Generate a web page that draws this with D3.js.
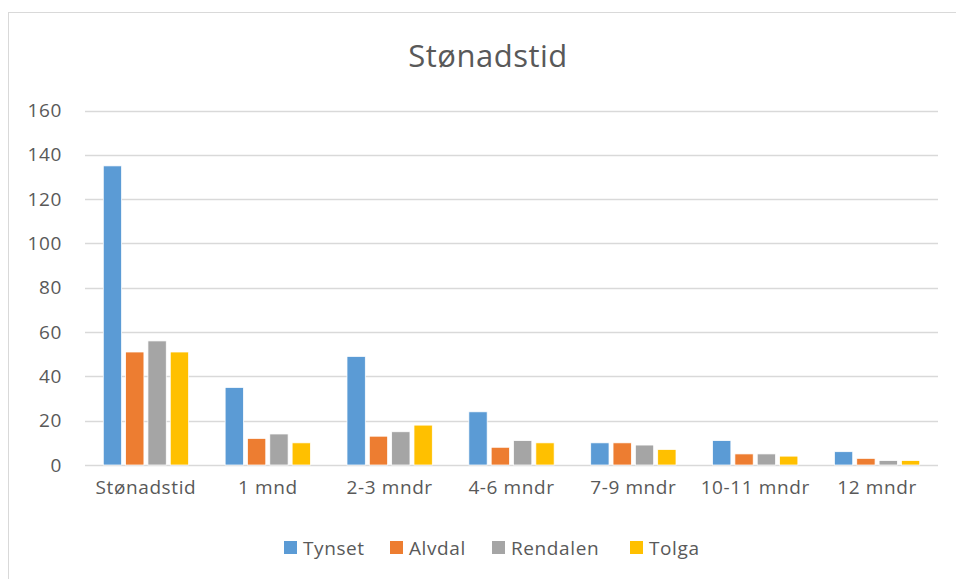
<!DOCTYPE html>
<html>
<head>
<meta charset="utf-8">
<script src="https://cdn.jsdelivr.net/npm/d3@7"></script>
<style>
  body { margin: 0; background: #fff; }
  svg text { font-family: "Open Sans", sans-serif; fill: #595959; }
</style>
</head>
<body>
<svg id="mainSvgArea" width="956" height="579"></svg>
<script>
var categories = ["Stønadstid", "1 mnd", "2-3 mndr", "4-6 mndr", "7-9 mndr", "10-11 mndr", "12 mndr"];
var seriesNames = ["Tynset", "Alvdal", "Rendalen", "Tolga"];
var tynset = [135, 35, 49, 24, 10, 11, 6];
var alvdal = [51, 12, 13, 8, 10, 5, 3];
var rendalen = [56, 14, 15, 11, 9, 5, 2];
var tolga = [51, 10, 18, 10, 7, 4, 2];
var yTicks = [0, 20, 40, 60, 80, 100, 120, 140, 160];
var colors = ["#5b9bd5", "#ed7d31", "#a5a5a5", "#ffc000"];

var seriesValues = [tynset, alvdal, rendalen, tolga];

var svg = d3.select("#mainSvgArea");

// chart frame
svg.append("rect")
    .attr("x", 8.5).attr("y", 12.5)
    .attr("width", 960).attr("height", 580)
    .attr("fill", "none")
    .attr("stroke", "#d9d9d9");

var plotLeft = 85, plotRight = 938, plotTop = 110.5, plotBottom = 465;

var x0 = d3.scaleBand().domain(categories).range([plotLeft, plotRight]).paddingInner(0.3).paddingOuter(0.15);
var x1 = d3.scaleBand().domain(seriesNames).range([0, x0.bandwidth()]).paddingInner(0.18);
var y = d3.scaleLinear().domain([0, 160]).range([plotBottom, plotTop]);

// gridlines
svg.append("g").selectAll("line").data(yTicks).enter().append("line")
    .attr("x1", plotLeft).attr("x2", plotRight)
    .attr("y1", function(d) { return Math.round(y(d)) + 0.5; })
    .attr("y2", function(d) { return Math.round(y(d)) + 0.5; })
    .attr("stroke", "#d9d9d9")
    .attr("stroke-width", 1.3);

// y axis labels
svg.append("g").selectAll("text").data(yTicks).enter().append("text")
    .attr("x", 62)
    .attr("y", function(d) { return y(d); })
    .attr("dy", "0.35em")
    .attr("text-anchor", "end")
    .style("font-size", "19px")
    .style("letter-spacing", "0.6px")
    .text(function(d) { return d; });

// bars
var groups = svg.append("g").selectAll("g").data(categories).enter().append("g")
    .attr("transform", function(c) { return "translate(" + x0(c) + ",0)"; });

groups.selectAll("rect")
    .data(function(c, i) {
        return seriesNames.map(function(s, j) { return {series: s, value: seriesValues[j][i], color: colors[j]}; });
    })
    .enter().append("rect")
    .attr("x", function(d) { return x1(d.series); })
    .attr("y", function(d) { return y(d.value); })
    .attr("width", x1.bandwidth())
    .attr("height", function(d) { return y(0) - y(d.value); })
    .attr("fill", function(d) { return d.color; })
    .attr("stroke", "#fff")
    .attr("stroke-width", 0.75);

// category labels
svg.append("g").selectAll("text").data(categories).enter().append("text")
    .attr("x", function(c) { return x0(c) + x0.bandwidth() / 2; })
    .attr("y", 494)
    .attr("text-anchor", "middle")
    .style("font-size", "19px")
    .style("letter-spacing", "0.6px")
    .text(function(c) { return c; });

// title
svg.append("text")
    .attr("x", 488).attr("y", 67)
    .attr("text-anchor", "middle")
    .style("font-size", "31px")
    .style("letter-spacing", "0.5px")
    .text("Stønadstid");

// legend
var legendX = [284, 390, 492, 630];
var legend = svg.append("g").selectAll("g").data(seriesNames).enter().append("g")
    .attr("transform", function(s, i) { return "translate(" + legendX[i] + ",541)"; });
legend.append("rect")
    .attr("width", 13).attr("height", 13)
    .attr("fill", function(s, i) { return colors[i]; });
legend.append("text")
    .attr("x", 19).attr("y", 7)
    .attr("dy", "0.35em")
    .style("font-size", "19px")
    .style("letter-spacing", "0.6px")
    .text(function(s) { return s; });
</script>
</body>
</html>
